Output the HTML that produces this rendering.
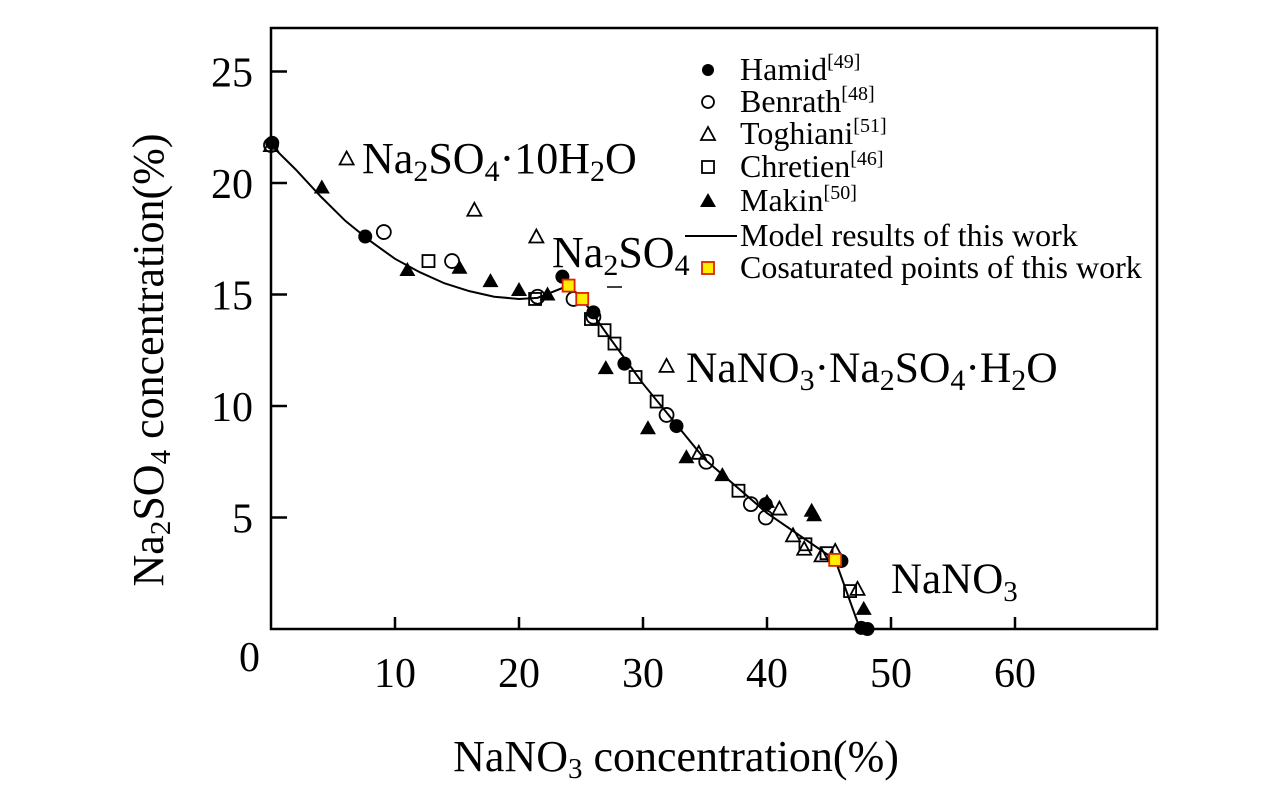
<!DOCTYPE html>
<html><head><meta charset="utf-8"><style>
body{margin:0;background:#fff}
svg{display:block;font-family:"Liberation Serif",serif}
</style></head><body>
<svg id="chart" width="1276" height="787" viewBox="0 0 1276 787" xmlns="http://www.w3.org/2000/svg">
<rect x="0" y="0" width="1276" height="787" fill="#fff"/>
<g id="plot"></g>
<rect x="271" y="28" width="886" height="601" fill="none" stroke="#000" stroke-width="2.5"/>
<text x="239" y="671" font-size="42">0</text>
<text transform="translate(163,360) rotate(-90)" text-anchor="middle" font-size="44">Na<tspan font-size="29" dy="7">2</tspan><tspan dy="-7">SO</tspan><tspan font-size="29" dy="7">4</tspan><tspan dy="-7"> concentration(%)</tspan></text>
<text x="676" y="771" text-anchor="middle" font-size="44">NaNO<tspan font-size="29" dy="7">3</tspan><tspan dy="-7"> concentration(%)</tspan></text>
<text x="362" y="173" font-size="44">Na<tspan font-size="30" dy="8">2</tspan><tspan dy="-8">SO</tspan><tspan font-size="30" dy="8">4</tspan><tspan dy="-8">·10H</tspan><tspan font-size="30" dy="8">2</tspan><tspan dy="-8">O</tspan></text>
<text x="552" y="267" font-size="44">Na<tspan font-size="30" dy="8">2</tspan><tspan dy="-8">SO</tspan><tspan font-size="30" dy="8">4</tspan></text>
<line x1="607" y1="287" x2="622" y2="287" stroke="#000" stroke-width="1.5"/>
<text x="686" y="382" font-size="43.5">NaNO<tspan font-size="30" dy="8">3</tspan><tspan dy="-8">·Na</tspan><tspan font-size="30" dy="8">2</tspan><tspan dy="-8">SO</tspan><tspan font-size="30" dy="8">4</tspan><tspan dy="-8">·H</tspan><tspan font-size="30" dy="8">2</tspan><tspan dy="-8">O</tspan></text>
<text x="891" y="593" font-size="43">NaNO<tspan font-size="29" dy="8">3</tspan></text>
<g id="legend"></g>
<script>
const xTicks=[10,20,30,40,50,60];
const yTicks=[5,10,15,20,25];
const hamidX=[0.1,7.6,23.5,26,28.5,32.7,39.9,46,47.6,48.1];
const hamidY=[21.8,17.6,15.8,14.2,11.9,9.1,5.6,3.05,0.05,0];
const benrathX=[0,9.1,14.6,21.5,24.4,26.0,31.9,35.1,38.7,39.9];
const benrathY=[21.7,17.8,16.5,14.9,14.8,14.0,9.6,7.5,5.6,5.0];
const toghianiX=[0,6.1,16.4,21.4,31.9,34.5,41.0,42.1,43,44.4,45.5,47.3];
const toghianiY=[21.7,21.1,18.8,17.6,11.8,7.9,5.4,4.2,3.6,3.3,3.5,1.8];
const chretienX=[12.7,21.3,25.8,26.9,27.7,29.4,31.1,37.7,43.1,44.8,46.7];
const chretienY=[16.5,14.8,13.9,13.4,12.8,11.3,10.2,6.2,3.8,3.4,1.7];
const makinX=[4.1,11,15.2,17.7,20,22.3,27,30.4,33.5,36.4,40,43.6,43.8,47.8];
const makinY=[19.8,16.1,16.2,15.6,15.2,15.0,11.7,9.0,7.7,6.9,5.7,5.3,5.1,0.9];
const modelX=[0,2,4,6,8,10,12,14,16,18,20,21.5,24,25.1,27,30,35,40,45.5,47.5];
const modelY=[21.7,20.6,19.4,18.3,17.4,16.6,16.0,15.5,15.15,14.9,14.8,14.85,15.4,14.8,13.3,11.0,7.6,5.2,3.1,0];
const cosatX=[24.0,25.1,45.5];
const cosatY=[15.4,14.8,3.1];

const NS="http://www.w3.org/2000/svg";
const sx=v=>271+v*12.4;
const sy=v=>629-v*22.3;
const plot=document.getElementById('plot');
function mk(tag,attrs,parent){const e=document.createElementNS(NS,tag);for(const k in attrs)e.setAttribute(k,attrs[k]);(parent||plot).appendChild(e);return e;}
xTicks.forEach(t=>{
  const l=mk('line',{x1:sx(t),x2:sx(t),y1:629,y2:617,stroke:'#000','stroke-width':2.5});
  
  
  const tx=mk('text',{x:sx(t),y:687,'text-anchor':'middle','font-size':42});
  tx.textContent=t;
  
  
});
yTicks.forEach(t=>{
  const l=mk('line',{x1:271,x2:287,y1:sy(t),y2:sy(t),stroke:'#000','stroke-width':2.5});
  
  
  const tx=mk('text',{x:253,y:sy(t)+15,'text-anchor':'end','font-size':42});
  tx.textContent=t;
  
  
});
const line=mk('polyline',{points:modelX.map((x,i)=>sx(x)+','+sy(modelY[i])).join(' '),fill:'none',stroke:'#000','stroke-width':2});


function marker(type,cx,cy,parent,r){
  r=r||7;let e;
  if(type==='fc')e=mk('circle',{cx,cy,r,fill:'#000'},parent);
  else if(type==='oc')e=mk('circle',{cx,cy,r,fill:'none',stroke:'#000','stroke-width':1.8},parent);
  else if(type==='ot')e=mk('polygon',{points:`${cx},${cy-7} ${cx-7},${cy+6} ${cx+7},${cy+6}`,fill:'none',stroke:'#000','stroke-width':1.8},parent);
  else if(type==='ft')e=mk('polygon',{points:`${cx},${cy-8} ${cx-8},${cy+6} ${cx+8},${cy+6}`,fill:'#000'},parent);
  else if(type==='os')e=mk('rect',{x:cx-6,y:cy-6,width:12,height:12,fill:'none',stroke:'#000','stroke-width':1.8},parent);
  else e=mk('rect',{x:cx-6,y:cy-6,width:12,height:12,fill:'#ffee00',stroke:'#dd2200','stroke-width':1.8},parent);
  return e;
}
hamidX.forEach((x,i)=>{const e=marker('fc',sx(x),sy(hamidY[i]));
  
  });
benrathX.forEach((x,i)=>{const e=marker('oc',sx(x),sy(benrathY[i]));
  
  });
toghianiX.forEach((x,i)=>{const e=marker('ot',sx(x),sy(toghianiY[i]));
  
  });
chretienX.forEach((x,i)=>{const e=marker('os',sx(x),sy(chretienY[i]));
  
  });
makinX.forEach((x,i)=>{const e=marker('ft',sx(x),sy(makinY[i]));
  
  });
cosatX.forEach((x,i)=>{const e=marker('cs',sx(x),sy(cosatY[i]));
  
  });
const leg=document.getElementById('legend');
const legItems=[['fc','Hamid','[49]',70],['oc','Benrath','[48]',102],['ot','Toghiani','[51]',134],['os','Chretien','[46]',167],['ft','Makin','[50]',201],['line','Model results of this work','',236],['cs','Cosaturated points of this work','',268]];
legItems.forEach(it=>{
  let m;
  if(it[0]==='line')m=mk('line',{x1:685,x2:737,y1:it[3],y2:it[3],stroke:'#000','stroke-width':2},leg);
  else m=marker(it[0],708,it[3],leg,6);
  
  
  const t=mk('text',{x:740,y:it[3]+10,'font-size':32},leg);
  t.textContent=it[1];
  if(it[2]){const s=mk('tspan',{'font-size':20,dy:-12},t);s.textContent=it[2];}
  
  
});
</script>
</svg>
</body></html>
